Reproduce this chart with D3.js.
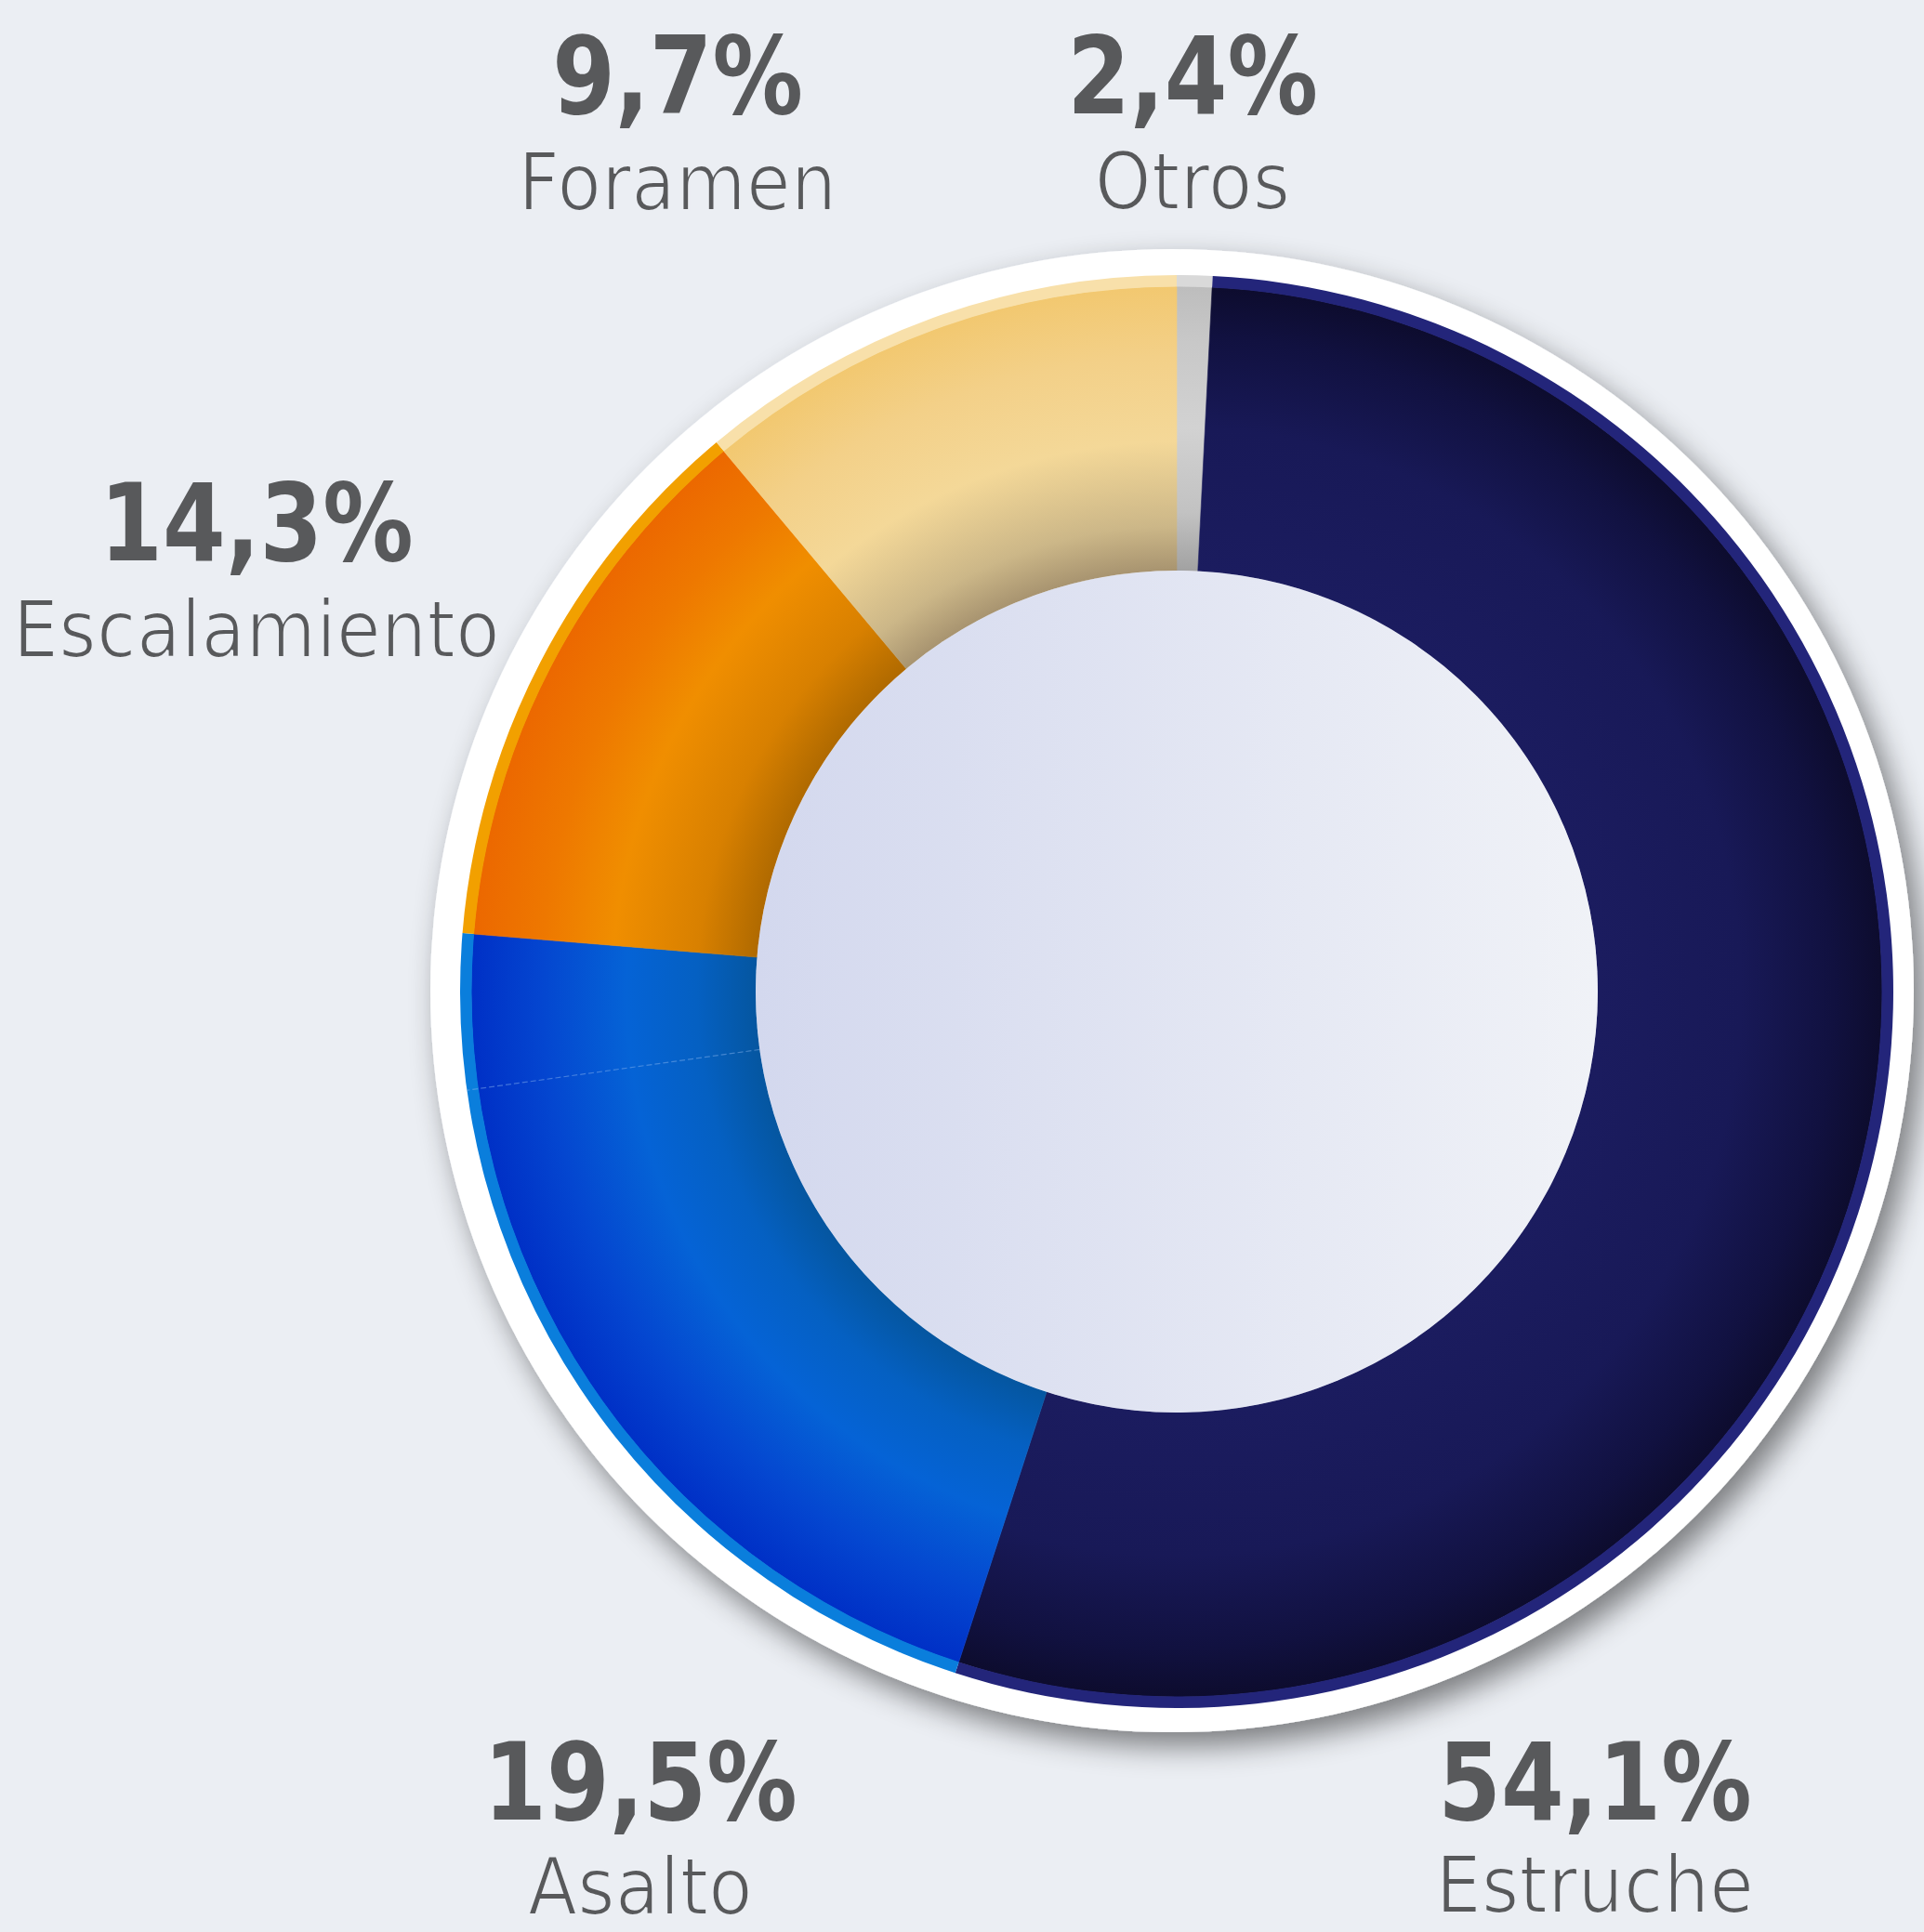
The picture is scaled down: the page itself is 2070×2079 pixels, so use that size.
<!DOCTYPE html>
<html><head><meta charset="utf-8">
<script src="https://cdn.jsdelivr.net/npm/d3@7"></script>
<style>
html,body{margin:0;padding:0;background:#ebeef3;}
svg{display:block;}
</style></head><body>
<svg id="chart" width="2070" height="2079"></svg>
<script>
// ---- data ----
const categories  = ["Otros", "Estruche", "Asalto", "Escalamiento", "Foramen"];
const valueLabels = ["2,4%", "54,1%", "19,5%", "14,3%", "9,7%"];
// share of the ring that each slice occupies as drawn (clockwise from 12 o'clock)
const arcShares   = [0.8, 54.2, 21.3, 12.6, 11.1];
// the Asalto slice shows a faint seam this far (in shares) from its start
const asaltoSeam  = 17.8;

// ---- styles ----
const bandColors = ["#d9d9d9", "#23257a", "#0a7edc", "#f2a000", "#f8e0aa"];
const gradStops = [
  [[0.597,"#a2a2a2"],[0.68,"#c2c2c2"],[0.80,"#d2d2d2"],[0.92,"#c8c8c8"],[1,"#bdbdbd"]],
  [[0.597,"#1b1c5f"],[0.80,"#181957"],[0.93,"#111140"],[1,"#0d0c2e"]],
  [[0.597,"#0556a0"],[0.68,"#0560c2"],[0.78,"#0563d6"],[0.90,"#0446d0"],[1,"#0030c6"]],
  [[0.597,"#b06a00"],[0.68,"#d88000"],[0.80,"#f08e00"],[0.90,"#ee7800"],[1,"#ec6800"]],
  [[0.597,"#a89470"],[0.66,"#ccb788"],[0.78,"#f4d898"],[0.90,"#f3d088"],[1,"#f2c870"]]
];
const layout = {
  cx: 1266, cy: 1067, rInner: 453, rBand: 759, rOuter: 771,
  ringCx: 1261, ringCy: 1066, ringR: 798,
  // label anchors: [x, value baseline, name baseline]
  labels: [[1283,122,225],[1716,1958,2058],[689,1958,2060],[276,603,707],[729,122,226]]
};

const svg = d3.select("#chart");
const defs = svg.append("defs");

svg.append("rect").attr("width",2070).attr("height",2079).attr("fill","#ebeef3");

// drop shadow
const f = defs.append("filter").attr("id","shadow")
  .attr("x","-20%").attr("y","-20%").attr("width","140%").attr("height","140%");
f.append("feDropShadow").attr("dx",11).attr("dy",15).attr("stdDeviation",16)
  .attr("flood-color","#000").attr("flood-opacity",0.48);

// hole gradient
const hg = defs.append("linearGradient").attr("id","hole")
  .attr("x1","0%").attr("x2","100%").attr("y1","0%").attr("y2","0%");
hg.append("stop").attr("offset","0%").attr("stop-color","#d3d8ee");
hg.append("stop").attr("offset","100%").attr("stop-color","#f0f2f7");

categories.forEach((c,i)=>{
  const g = defs.append("radialGradient").attr("id","g"+i)
    .attr("gradientUnits","userSpaceOnUse").attr("cx",0).attr("cy",0).attr("r",layout.rBand);
  gradStops[i].forEach(s=> g.append("stop").attr("offset",s[0]).attr("stop-color",s[1]));
});

// white ring with shadow
svg.append("circle").attr("cx",layout.ringCx).attr("cy",layout.ringCy).attr("r",layout.ringR)
  .attr("fill","#fff").attr("filter","url(#shadow)");

const pie = d3.pie().sort(null).value(d=>d.v).startAngle(0).endAngle(2*Math.PI);
const data = categories.map((c,i)=>({c, v: arcShares[i], i}));
const arcs = pie(data);

const G = svg.append("g").attr("transform",`translate(${layout.cx},${layout.cy})`);

const arcMain = d3.arc().innerRadius(layout.rInner).outerRadius(layout.rBand);
const arcBand = d3.arc().innerRadius(layout.rBand - 0.5).outerRadius(layout.rOuter);

G.selectAll("path.main").data(arcs).join("path").attr("class","main")
  .attr("d",arcMain).attr("fill",d=>`url(#g${d.data.i})`)
  .attr("stroke",d=>`url(#g${d.data.i})`).attr("stroke-width",0.6);
G.selectAll("path.band").data(arcs).join("path").attr("class","band")
  .attr("d",arcBand).attr("fill",d=>bandColors[d.data.i]);

// faint seam inside Asalto
const total = d3.sum(arcShares);
const asIdx = categories.indexOf("Asalto");
const seamAngle = arcs[asIdx].startAngle + asaltoSeam / total * 2 * Math.PI;
G.append("line")
  .attr("x1", Math.sin(seamAngle)*layout.rInner).attr("y1", -Math.cos(seamAngle)*layout.rInner)
  .attr("x2", Math.sin(seamAngle)*layout.rOuter).attr("y2", -Math.cos(seamAngle)*layout.rOuter)
  .attr("stroke","#8fb8f0").attr("stroke-opacity",0.45).attr("stroke-width",1.2)
  .attr("stroke-dasharray","6 3");

// hole
G.append("circle").attr("r",layout.rInner).attr("fill","url(#hole)");

// labels
const L = svg.append("g");
categories.forEach((c,i)=>{
  const [x,yv,yn] = layout.labels[i];
  L.append("text").attr("text-anchor","middle")
    .attr("transform",`translate(${x},${yv}) scale(0.94,1)`)
    .attr("font-family","'DejaVu Sans Condensed','DejaVu Sans',sans-serif")
    .attr("font-stretch","condensed")
    .attr("font-weight","bold").attr("font-size",115).attr("fill","#58595b")
    .text(valueLabels[i]);
  L.append("text").attr("x",x).attr("y",yn).attr("text-anchor","middle")
    .attr("font-family","'DejaVu Sans Condensed','DejaVu Sans',sans-serif")
    .attr("font-stretch","condensed")
    .attr("font-size",86).attr("fill","#58595b")
    .attr("stroke","#ebeef3").attr("stroke-width",2.2)
    .attr("letter-spacing",0.4)
    .text(c);
});
</script>
</body></html>
